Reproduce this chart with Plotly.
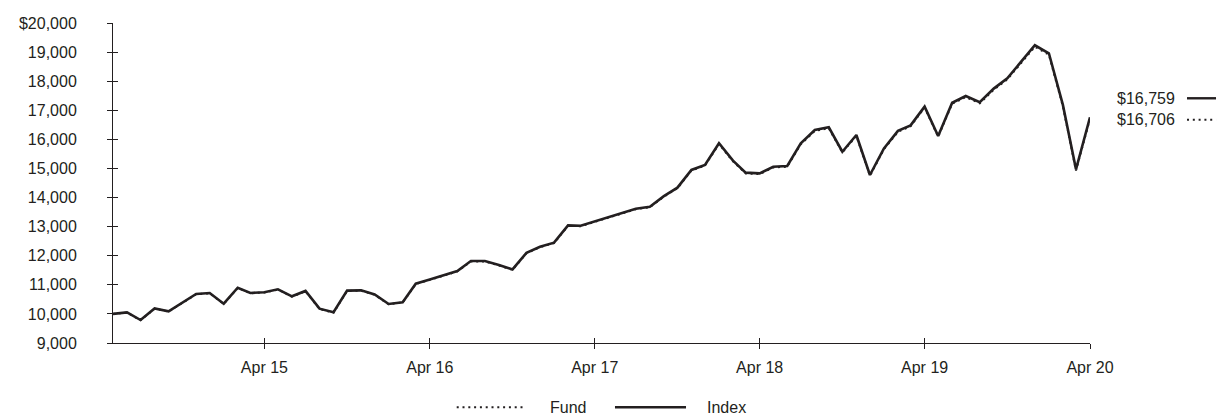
import plotly.graph_objects as go
import pandas as pd

# Month-start dates, May 2014 through April 2020
months = pd.date_range("2014-05-01", "2020-04-01", freq="MS")

# Growth of a $10,000 investment
index_values = [
    10000, 10050, 9790, 10190, 10090, 10385, 10685, 10720, 10350, 10900, 10720, 10745,
    10845, 10605, 10790, 10180, 10055, 10800, 10810, 10670, 10340, 10400, 11040, 11180,
    11337, 11475, 11820, 11820, 11680, 11530, 12100, 12310, 12450, 13045, 13030, 13185,
    13310, 13480, 13615, 13685, 14050, 14340, 14950, 15120, 15865, 15270, 14855, 14830,
    15060, 15085, 15865, 16320, 16415, 15575, 16150, 14775, 15690, 16290, 16480, 17125,
    16115, 17260, 17490, 17275, 17745, 18100, 18670, 19235, 18960, 17185, 14970, 16759,
]
fund_values = [
    10000, 10045, 9785, 10180, 10080, 10375, 10675, 10710, 10340, 10890, 10710, 10735,
    10835, 10595, 10780, 10170, 10045, 10790, 10800, 10660, 10330, 10390, 11030, 11170,
    11325, 11460, 11805, 11805, 11665, 11515, 12085, 12295, 12435, 13030, 13015, 13170,
    13295, 13465, 13600, 13670, 14030, 14320, 14930, 15100, 15840, 15245, 14830, 14805,
    15035, 15060, 15835, 16290, 16385, 15550, 16120, 14750, 15660, 16260, 16450, 17095,
    16090, 17225, 17455, 17240, 17705, 18060, 18625, 19185, 18910, 17140, 14930, 16706,
]

y_tickvals = list(range(9000, 20001, 1000))
y_ticktext = [f"${v:,}" if v == 20000 else f"{v:,}" for v in y_tickvals]
x_tickvals = pd.to_datetime(["2015-04-01", "2016-04-01", "2017-04-01",
                             "2018-04-01", "2019-04-01", "2020-04-01"])
x_ticktext = ["Apr 15", "Apr 16", "Apr 17", "Apr 18", "Apr 19", "Apr 20"]

INK = "#231f20"
FONT = "Liberation Sans, Arial, sans-serif"
FSIZE = 16
DOTS = "2px,3.8px"

fig = go.Figure()
fig.add_trace(go.Scatter(
    x=months, y=fund_values, name="Fund", mode="lines",
    line=dict(color=INK, width=2, dash=DOTS), xaxis="x", yaxis="y",
))
fig.add_trace(go.Scatter(
    x=months, y=index_values, name="Index", mode="lines",
    line=dict(color=INK, width=2.6), xaxis="x2", yaxis="y2",
))

x_range = [months[0], months[-1]]
y_range = [9000, 20000]

common_x = dict(range=x_range, tickvals=x_tickvals, ticktext=x_ticktext,
                showgrid=False, zeroline=False, tickcolor=INK, tickwidth=1)
common_y = dict(range=y_range, tickvals=y_tickvals, ticktext=y_ticktext,
                showgrid=False, zeroline=False, tickcolor=INK, tickwidth=1)

fig.update_layout(
    width=1217, height=415,
    margin=dict(l=113, r=127, t=23, b=72),
    paper_bgcolor="white", plot_bgcolor="white",
    font=dict(family=FONT, size=FSIZE, color=INK),
    showlegend=False,
    xaxis=dict(**common_x, ticks="outside", ticklen=5, showline=True,
               linecolor=INK, linewidth=1, ticklabelstandoff=5),
    yaxis=dict(**common_y, ticks="outside", ticklen=5, showline=True,
               linecolor=INK, linewidth=1, ticklabelstandoff=27),
    xaxis2=dict(**common_x, overlaying="x", matches="x", anchor="y2",
                ticks="inside", ticklen=5, showticklabels=False, showline=False),
    yaxis2=dict(**common_y, overlaying="y", matches="y", anchor="x2",
                ticks="inside", ticklen=5, showticklabels=False, showline=False),
)

# End-value labels with line-style keys to the right of the plot
px_per_unit = 320 / 11000
end_labels = [
    (f"${index_values[-1]:,}", index_values[-1], 19, "solid", 2.4),
    (f"${fund_values[-1]:,}", fund_values[-1], -1, DOTS, 2),
]
for text, val, shift, dash, width in end_labels:
    fig.add_annotation(
        x=1.089, xref="paper", y=val, yref="y", yshift=shift,
        text=text, showarrow=False, xanchor="right", yanchor="middle",
        font=dict(family=FONT, size=FSIZE, color=INK),
    )
    y_key = val + shift / px_per_unit
    fig.add_shape(
        type="line", xref="paper", yref="y",
        x0=1.0993, x1=1.1290, y0=y_key, y1=y_key,
        line=dict(color=INK, width=width, dash=dash),
    )

# Legend row beneath the axis
legend_y = -0.201
legend_items = [("Fund", DOTS, 2, 0.3518, 0.4224, 0.4450),
                ("Index", "solid", 2.4, 0.5138, 0.5865, 0.6060)]
for name, dash, width, x0, x1, xt in legend_items:
    fig.add_shape(type="line", xref="paper", yref="paper",
                  x0=x0, x1=x1, y0=legend_y, y1=legend_y,
                  line=dict(color=INK, width=width, dash=dash))
    fig.add_annotation(x=xt, y=legend_y, xref="paper", yref="paper",
                       text=name, showarrow=False, xanchor="left",
                       yanchor="middle", font=dict(family=FONT, size=FSIZE, color=INK))

fig.write_html("out.html")
